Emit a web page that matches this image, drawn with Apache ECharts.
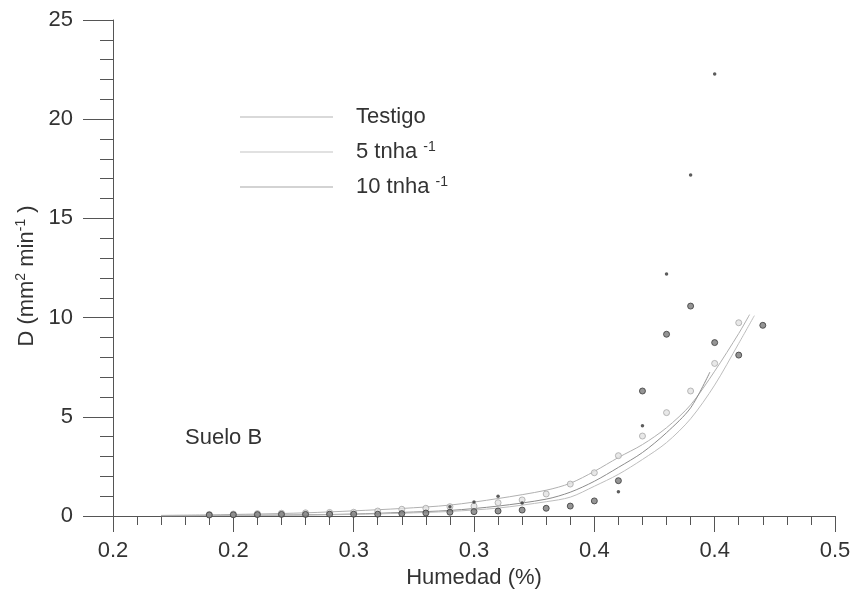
<!DOCTYPE html>
<html>
<head>
<meta charset="utf-8">
<script src="https://cdn.jsdelivr.net/npm/echarts@6/dist/echarts.min.js"></script>
<style>html,body{margin:0;padding:0;background:#fff}#c{width:854px;height:594px}</style>
</head>
<body>
<div id="c"></div>
<script>
// ---- data ----
const xTickLabels = ['0.2', '0.2', '0.3', '0.3', '0.4', '0.4', '0.5'];

// measured points
const lightX = [0.20,0.21,0.22,0.23,0.24,0.25,0.26,0.27,0.28,0.29,0.30,0.31,0.32,0.33,0.34,0.35,0.36,0.37,0.38,0.39,0.40,0.41,0.42];
const lightY = [0.08,0.10,0.12,0.14,0.16,0.18,0.19,0.25,0.34,0.39,0.47,0.50,0.67,0.81,1.11,1.61,2.18,3.04,4.03,5.21,6.30,7.69,9.74];

const darkX = [0.20,0.21,0.22,0.23,0.24,0.25,0.26,0.27,0.28,0.29,0.30,0.31,0.32,0.33,0.34,0.35,0.36,0.37,0.38,0.39,0.40,0.41,0.42,0.43];
const darkY = [0.05,0.06,0.07,0.08,0.08,0.09,0.09,0.09,0.12,0.15,0.19,0.22,0.25,0.30,0.39,0.50,0.76,1.78,6.30,9.16,10.58,8.74,8.11,9.61];

const tinyX = [0.30,0.31,0.32,0.33,0.37,0.38,0.39,0.40,0.41];
const tinyY = [0.47,0.70,0.99,0.65,1.22,4.55,12.20,17.19,22.28];

// fitted curves
const curveTestigoX = [0.18,0.20,0.22,0.24,0.26,0.28,0.30,0.32,0.34,0.35,0.36,0.37,0.38,0.39,0.40,0.41,0.42,0.4245];
const curveTestigoY = [0.03,0.06,0.10,0.16,0.26,0.38,0.55,0.88,1.30,1.65,2.25,2.95,3.60,4.45,5.60,7.30,9.20,10.15];

const curve5X = [0.18,0.20,0.22,0.24,0.26,0.28,0.30,0.32,0.34,0.35,0.36,0.37,0.38,0.39,0.40,0.408];
const curve5Y = [0.01,0.02,0.04,0.06,0.10,0.18,0.28,0.50,0.85,1.20,1.75,2.45,3.20,4.20,5.45,7.25];

const curve10X = [0.18,0.20,0.22,0.24,0.26,0.28,0.30,0.32,0.34,0.35,0.36,0.37,0.38,0.39,0.40,0.41,0.42,0.4265];
const curve10Y = [0.01,0.015,0.03,0.05,0.08,0.14,0.23,0.40,0.72,0.95,1.50,2.10,2.85,3.70,4.90,6.60,8.70,10.10];

const seriesNames = ['Testigo', '5 tnha -1', '10 tnha -1'];

// ---- chart ----
const zip = (xs, ys) => xs.map((x, i) => [x, ys[i]]);
const txt = '#333';
const font = 'Liberation Sans, Arial, sans-serif';
const richSup = {
  n: {fontSize: 22, lineHeight: 24, fontFamily: font, color: txt},
  s: {fontSize: 14, lineHeight: 14, verticalAlign: 'top', fontFamily: font, color: txt}
};

const chart = echarts.init(document.getElementById('c'), null, {renderer: 'canvas'});
chart.setOption({
  backgroundColor: '#fff',
  animation: false,
  grid: {left: 113, right: 19, top: 20, bottom: 78, containLabel: false},
  legend: {
    data: seriesNames.map(n => ({name: n, icon: 'rect'})),
    orient: 'vertical',
    left: 235, top: 101,
    itemWidth: 93, itemHeight: 1, itemGap: 12,
    selectedMode: false,
    formatter: function (name) {
      if (name === 'Testigo') return '{n|Testigo}';
      const p = name.split('-');
      return '{n|' + p[0] + '}{s|-' + p[1] + '}';
    },
    textStyle: {color: txt, fontFamily: font, fontSize: 22, padding: [0, 0, 0, 18], rich: richSup}
  },
  xAxis: [
    {
      type: 'value', min: 0.15, max: 0.45, interval: 0.05,
      name: 'Humedad (%)', nameLocation: 'middle', nameGap: 48,
      nameTextStyle: {color: txt, fontSize: 22, fontFamily: font},
      axisLine: {show: true, onZero: false, lineStyle: {color: '#555', width: 1}},
      axisTick: {show: true, length: 16, lineStyle: {color: '#555'}},
      minorTick: {show: true, splitNumber: 5, length: 9, lineStyle: {color: '#555'}},
      splitLine: {show: false},
      axisLabel: {
        color: txt, fontSize: 22, fontFamily: font, margin: 24,
        formatter: function (v) { return xTickLabels[Math.round((v - 0.15) / 0.05)]; }
      }
    },
    {type: 'value', min: 0.16, max: 0.46, show: false}
  ],
  yAxis: {
    type: 'value', min: 0, max: 25, interval: 5,
    name: '{n|D (mm}{s|2}{n| min}{s|-1}{n| )}',
    nameLocation: 'middle', nameRotate: 90, nameGap: 73,
    nameTextStyle: {color: txt, fontSize: 22, fontFamily: font, padding: [0, 16, 0, 0], rich: richSup},
    axisLine: {show: true, lineStyle: {color: '#555', width: 1}},
    axisTick: {show: true, length: 30, lineStyle: {color: '#555'}},
    minorTick: {show: true, splitNumber: 5, length: 13, lineStyle: {color: '#555'}},
    splitLine: {show: false},
    axisLabel: {color: txt, fontSize: 22, fontFamily: font, margin: 40}
  },
  graphic: [
    {type: 'text', left: 185, top: 427, style: {text: 'Suelo B', fill: txt, fontSize: 22, fontFamily: font}}
  ],
  series: [
    {name: seriesNames[0], type: 'line', xAxisIndex: 1, smooth: 0.3, symbol: 'none',
     lineStyle: {color: '#b0b0b0', width: 1}, itemStyle: {color: '#b4b4b4'}, data: zip(curveTestigoX, curveTestigoY), z: 2},
    {name: seriesNames[1], type: 'line', xAxisIndex: 1, smooth: 0.3, symbol: 'none',
     lineStyle: {color: '#8c8c8c', width: 1}, itemStyle: {color: '#c4c4c4'}, data: zip(curve5X, curve5Y), z: 2},
    {name: seriesNames[2], type: 'line', xAxisIndex: 1, smooth: 0.3, symbol: 'none',
     lineStyle: {color: '#bdbdbd', width: 1}, itemStyle: {color: '#a8a8a8'}, data: zip(curve10X, curve10Y), z: 2},
    {name: 'light points', type: 'scatter', xAxisIndex: 1, symbol: 'circle', symbolSize: 6,
     itemStyle: {color: '#e2e2e2', borderColor: '#a8a8a8', borderWidth: 1}, data: zip(lightX, lightY), z: 3},
    {name: 'dark points', type: 'scatter', xAxisIndex: 1, symbol: 'circle', symbolSize: 6,
     itemStyle: {color: '#7a7a7a', borderColor: '#3a3a3a', borderWidth: 1}, data: zip(darkX, darkY), z: 4},
    {name: 'tiny points', type: 'scatter', xAxisIndex: 1, symbol: 'circle', symbolSize: 3.5,
     itemStyle: {color: '#333'}, data: zip(tinyX, tinyY), z: 5}
  ]
});
</script>
</body>
</html>
